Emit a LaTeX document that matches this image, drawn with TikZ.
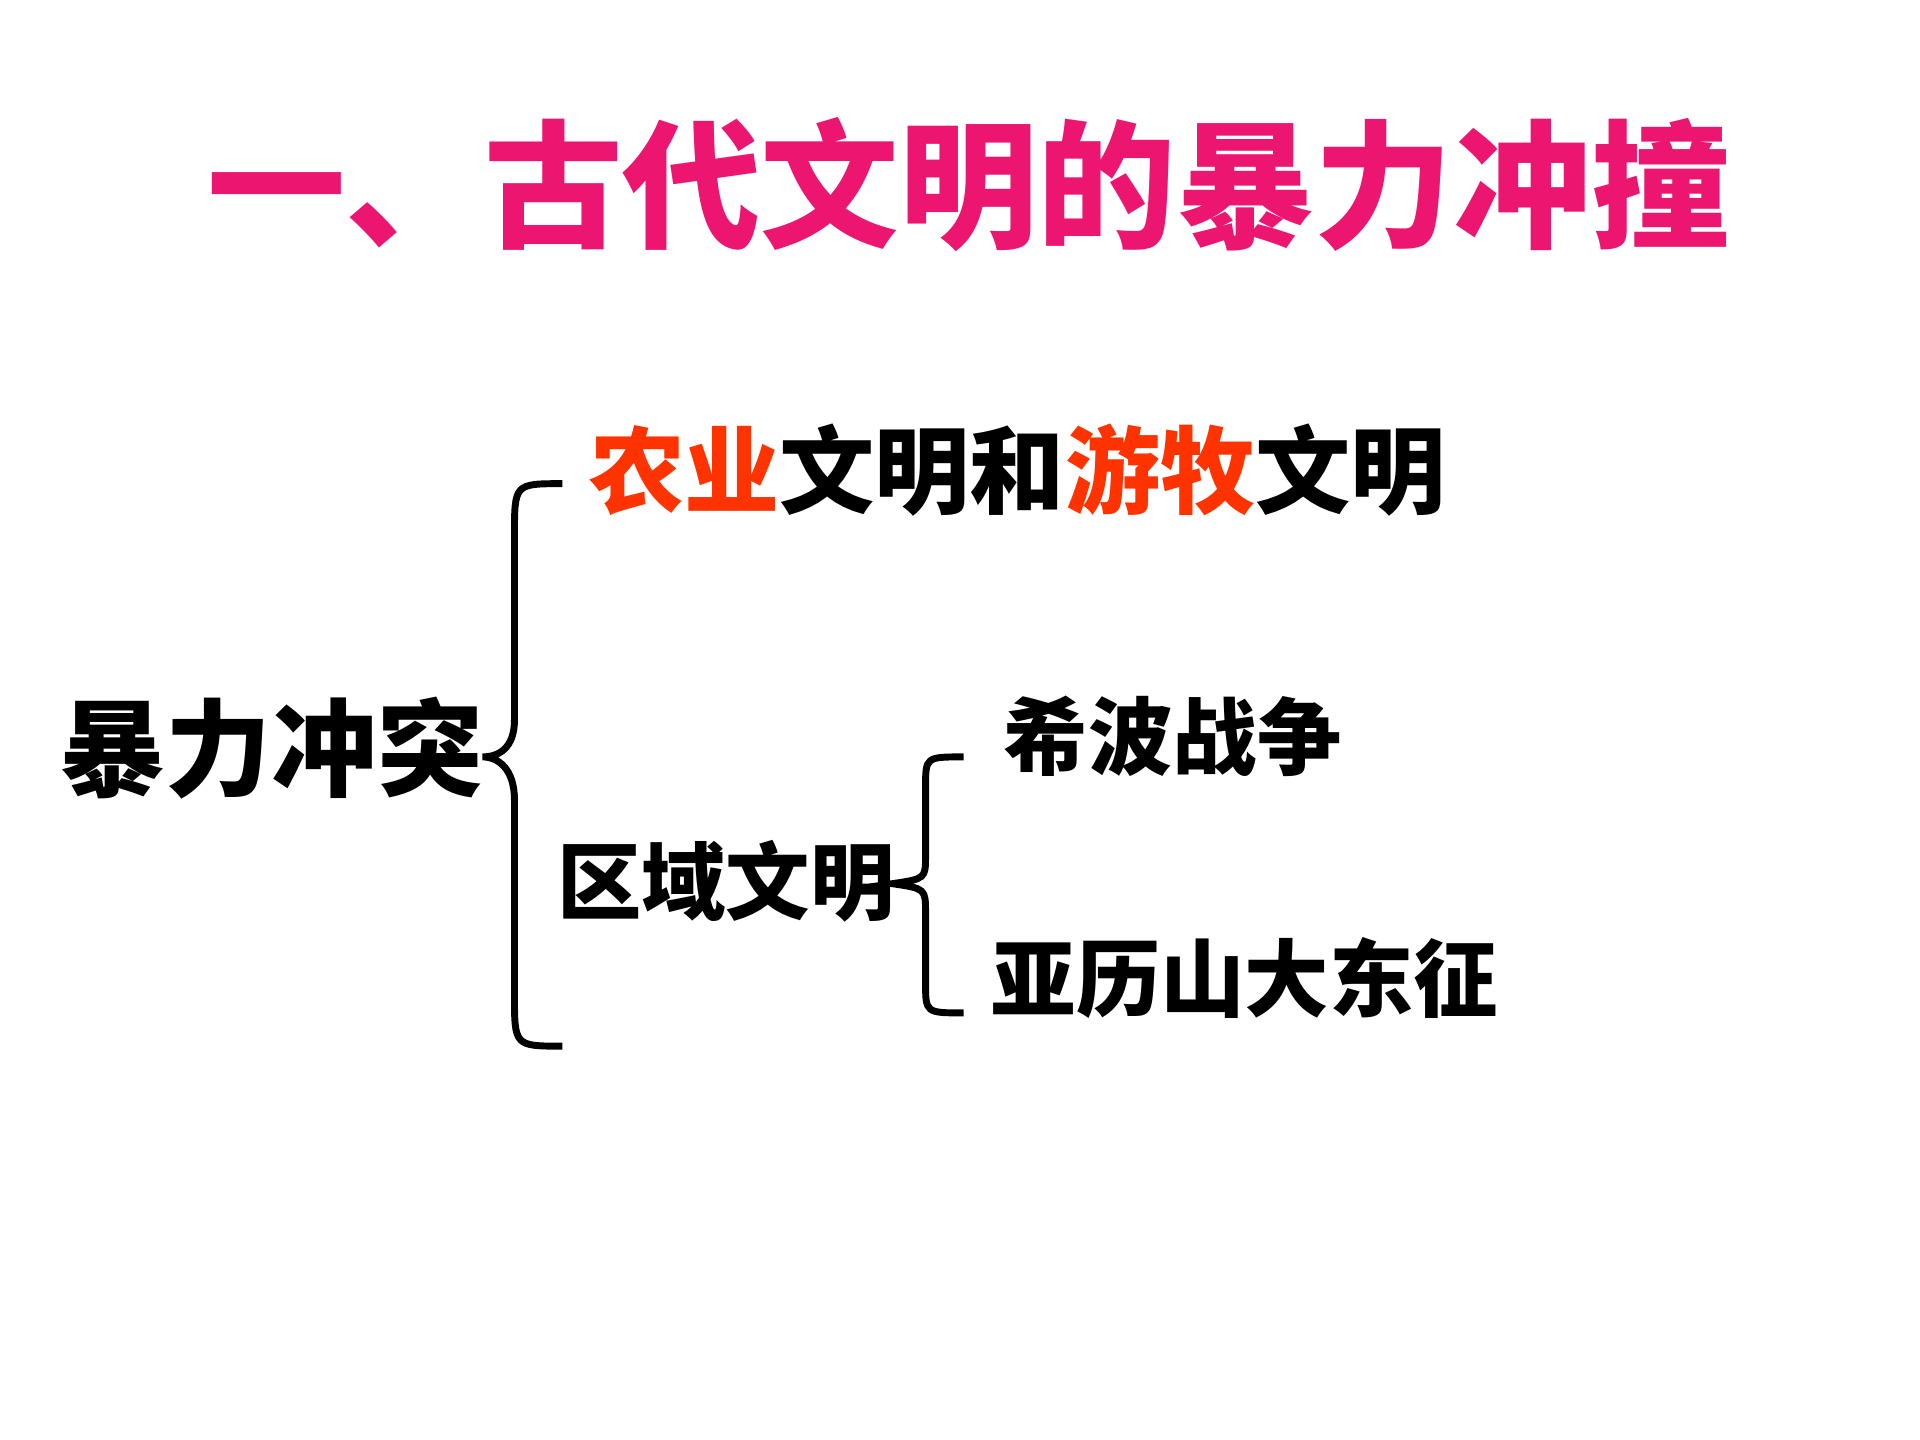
\documentclass[tikz,border=0pt]{standalone}
\usepackage{fontspec}
\newfontfamily\cjk{Noto Sans CJK SC}
\definecolor{titlepink}{HTML}{EC1570}
\definecolor{hot}{HTML}{FF3300}
\begin{document}
\begin{tikzpicture}[x=1cm,y=1cm,
  lbl/.style={inner sep=0pt,anchor=west,font=\cjk\bfseries},
  brace/.style={draw=black,line width=1.6pt}]
\useasboundingbox (0,0) rectangle (15.6,11.7);
\fill[white] (0,0) rectangle (15.6,11.7);
\node[inner sep=0pt,text=titlepink,font={\cjk\bfseries\fontsize{32pt}{36pt}\selectfont}] (title) at (7.87,10.2) {一、古代文明的暴力冲撞};
\node[lbl,font={\cjk\bfseries\fontsize{22pt}{26pt}\selectfont}] (top) at (4.78,7.88) {\textcolor{hot}{农业}文明和\textcolor{hot}{游牧}文明};
\node[lbl,font={\cjk\bfseries\fontsize{24.5pt}{28pt}\selectfont}] (root) at (0.48,5.62) {暴力冲突};
\node[lbl,font={\cjk\bfseries\fontsize{19.5pt}{23pt}\selectfont}] (region) at (4.52,4.54) {区域文明};
\node[lbl,font={\cjk\bfseries\fontsize{19.5pt}{23pt}\selectfont}] (xb) at (8.15,5.72) {希波战争};
\node[lbl,font={\cjk\bfseries\fontsize{19.5pt}{23pt}\selectfont}] (alex) at (8.05,3.75) {亚历山大东征};
\coordinate (b1t) at (4.57,7.77);
\coordinate (b1b) at (4.57,3.2);
\coordinate (b2t) at (7.83,5.55);
\coordinate (b2b) at (7.83,3.47);
\draw[brace] (b1t) .. controls (4.18,7.77) .. (4.18,7.35) -- (4.18,5.85)
  .. controls (4.18,5.62) and (4.05,5.55) .. (3.92,5.55)
  .. controls (4.05,5.55) and (4.18,5.45) .. (4.18,5.2) -- (4.18,3.62)
  .. controls (4.18,3.2) .. (b1b);
\draw[brace] (b2t) .. controls (7.52,5.55) .. (7.52,5.3) -- (7.52,4.75)
  .. controls (7.52,4.56) .. (7.25,4.52)
  .. controls (7.52,4.48) .. (7.52,4.28) -- (7.52,3.72)
  .. controls (7.52,3.47) .. (b2b);
\end{tikzpicture}
\end{document}
